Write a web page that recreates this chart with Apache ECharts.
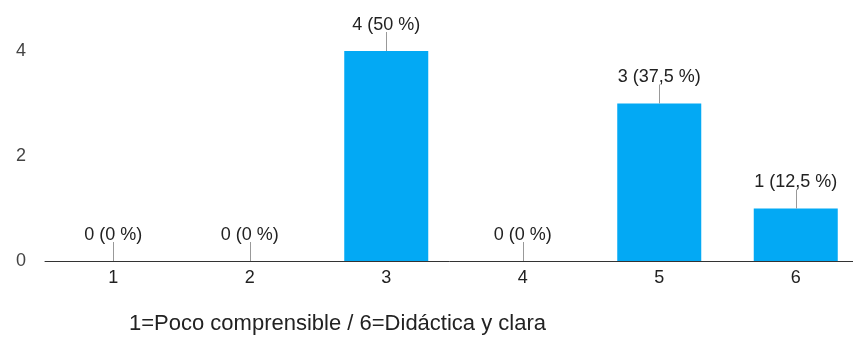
<!DOCTYPE html>
<html>
<head>
<meta charset="utf-8">
<script src="https://cdn.jsdelivr.net/npm/echarts@6/dist/echarts.min.js"></script>
<style>
  html, body { margin: 0; padding: 0; background: #fff; }
  #chart { width: 853px; height: 340px; }
</style>
</head>
<body>
<div id="chart"></div>
<script>
// Responses per rating (1 to 6)
const categories = ['1', '2', '3', '4', '5', '6'];
const counts = [0, 0, 4, 0, 3, 1];
const percents = [0, 0, 50, 0, 37.5, 12.5];
const yTicks = [0, 2, 4];
const axisTitle = '1=Poco comprensible / 6=Didáctica y clara';

const FONT = '"Liberation Sans", Arial, sans-serif';

function pctText(v) {
  return String(v).replace('.', ',');
}

const labelData = counts.map((c, i) => [i, c, percents[i]]);

const chart = echarts.init(document.getElementById('chart'));
chart.setOption({
  animation: false,
  grid: { left: 45, width: 819, top: 51, bottom: 79, outerBoundsMode: 'none', containLabel: false },
  xAxis: {
    type: 'category',
    data: categories,
    axisLine: { show: true, lineStyle: { color: '#333', width: 1 } },
    axisTick: { show: false },
    axisLabel: { color: '#222', fontSize: 18, fontFamily: FONT, margin: 8 }
  },
  yAxis: {
    type: 'value',
    min: yTicks[0],
    max: yTicks[yTicks.length - 1],
    interval: 2,
    splitLine: { show: false },
    axisLine: { show: false },
    axisTick: { show: false },
    axisLabel: { color: '#444', fontSize: 18, fontFamily: FONT, margin: 19 }
  },
  graphic: [{
    type: 'text',
    left: 129,
    top: 313,
    style: { text: axisTitle, font: '22px ' + FONT, fill: '#222' }
  }],
  series: [
    {
      type: 'bar',
      data: counts,
      barWidth: 84,
      itemStyle: { color: '#03A9F4' }
    },
    {
      type: 'custom',
      data: labelData,
      clip: false,
      z: 5,
      renderItem: function (params, api) {
        const p = api.coord([api.value(0), api.value(1)]);
        const x = Math.round(p[0]) + 0.5;
        return {
          type: 'group',
          children: [
            {
              type: 'line',
              shape: { x1: x, y1: p[1], x2: x, y2: p[1] - 19 },
              style: { stroke: '#999', lineWidth: 1 }
            },
            {
              type: 'text',
              x: p[0],
              y: p[1] - 17,
              style: {
                text: api.value(1) + ' (' + pctText(api.value(2)) + ' %)',
                align: 'center',
                verticalAlign: 'bottom',
                font: '18px ' + FONT,
                fill: '#222'
              }
            }
          ]
        };
      }
    }
  ]
});
</script>
</body>
</html>
